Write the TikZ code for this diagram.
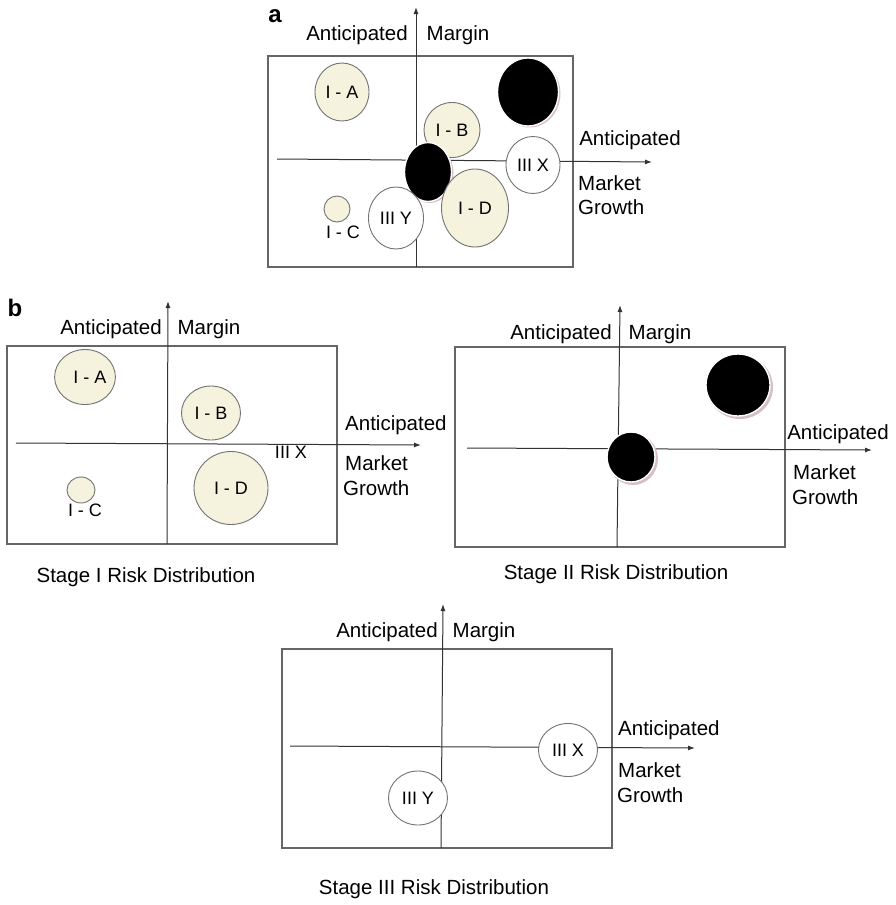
\documentclass[tikz,border=0pt]{standalone}
\usepackage{fontspec}
\setmainfont{Liberation Sans}
\usetikzlibrary{shapes.geometric,arrows.meta}
\definecolor{cream}{RGB}{245,243,222}
\definecolor{rim}{RGB}{214,192,197}
\begin{document}
\begin{tikzpicture}[x=1pt,y=-1pt,
  frame/.style={draw=black!60, line width=1.1pt},
  axis/.style={draw=black!80, line width=1pt, -{Latex[length=7pt,width=5pt]}},
  lbl/.style={font=\fontsize{20.5}{24}\selectfont, inner sep=0pt, text height=14.6pt, text depth=0pt},
  clbl/.style={font=\fontsize{18}{22}\selectfont, inner sep=0pt, text height=12.9pt, text depth=0pt},
  panel/.style={font=\bfseries\fontsize{24}{28}\selectfont, inner sep=0pt},
  wh/.style 2 args={minimum width=#1pt, minimum height=#2pt},
  bubble/.style={ellipse, draw=black!55, line width=0.9pt, inner sep=0pt,
    font=\fontsize{18}{22}\selectfont, text height=12.9pt, text depth=0pt},
  stageI/.style={bubble, fill=cream},
  stageIII/.style={bubble, fill=white},
  rimshade/.style={ellipse, fill=rim, inner sep=0pt},
  stageII/.style={ellipse, fill=black, draw=white, line width=1.4pt, inner sep=0pt},
]
\useasboundingbox[fill=white] (0,0) rectangle (896,905);

% ---------------- panel a: all stages together ----------------
\node[panel] (a-tag) at (275,16) {a};
\draw[frame] (268,56) rectangle (573,267);
\coordinate (a-ybot) at (416,267);
\coordinate (a-ytop) at (416,7);
\coordinate (a-xl) at (277,159);
\coordinate (a-xr) at (652,162);
\draw[axis] (a-ybot) -- (a-ytop);
\draw[axis] (a-xl) -- (a-xr);
\node[lbl] (a-ant1) at (357,33) {Anticipated};
\node[lbl] (a-mar) at (458,33) {Margin};
\node[lbl] (a-ant2) at (630,138) {Anticipated};
\node[lbl, anchor=west] (a-mkt) at (578,183) {Market};
\node[lbl, anchor=west] (a-gro) at (578,207) {Growth};

\node[rimshade, wh={62}{68}] (a-IIa-rim) at (529.5,93.5) {};
\node[stageII, wh={61}{68}] (a-IIa) at (528,92) {};
\node[stageI, wh={54}{58}] (a-IA) at (342,92) {I - A};
\node[stageI, wh={56}{55}] (a-IB) at (452,130) {I - B};
\node[rimshade, wh={48}{59}] (a-IIb-rim) at (429.5,173.5) {};
\node[stageII, wh={47}{59}] (a-IIb) at (428,172) {};
\node[stageIII, wh={54}{57}] (a-IIIX) at (533,165) {III X};
\node[stageI, wh={67}{78}] (a-ID) at (475,208) {I - D};
\node[stageIII, wh={55}{62}] (a-IIIY) at (396,218) {III Y};
\node[stageI, wh={26}{26}] (a-IC) at (337,209) {};
\node[clbl] (a-IC-lbl) at (343,232) {I - C};

% ---------------- panel b: Stage I ----------------
\node[panel] (b-tag) at (15,308) {b};
\draw[frame] (7,346) rectangle (337,544);
\coordinate (b1-ybot) at (167,544);
\coordinate (b1-ytop) at (168,301);
\coordinate (b1-xl) at (16,443);
\coordinate (b1-xr) at (421,445);
\draw[axis] (b1-ybot) -- (b1-ytop);
\draw[axis] (b1-xl) -- (b1-xr);
\node[lbl] (b1-ant1) at (111,327) {Anticipated};
\node[lbl] (b1-mar) at (209,327) {Margin};
\node[lbl, anchor=west] (b1-ant2) at (345,423) {Anticipated};
\node[lbl, anchor=west] (b1-mkt) at (345,463) {Market};
\node[lbl, anchor=west] (b1-gro) at (343,488) {Growth};
\node[clbl] (b1-IIIX) at (291,452) {III X};

\node[stageI, wh={55}{55}] (b1-IA) at (85,377) {\hspace*{10pt}I - A};
\node[stageI, wh={59}{54}] (b1-IB) at (211,413) {I - B};
\node[stageI, wh={74}{73}] (b1-ID) at (231,488) {I - D};
\node[stageI, wh={28}{26}] (b1-IC) at (81,490) {};
\node[clbl] (b1-IC-lbl) at (85,510) {I - C};
\node[lbl] (b1-title) at (146,575) {Stage I Risk Distribution};

% ---------------- panel b: Stage II ----------------
\draw[frame] (455,347) rectangle (785,547);
\coordinate (b2-ybot) at (617,547);
\coordinate (b2-ytop) at (620,305);
\coordinate (b2-xl) at (467,448);
\coordinate (b2-xr) at (872,450);
\draw[axis] (b2-ybot) -- (b2-ytop);
\draw[axis] (b2-xl) -- (b2-xr);
\node[lbl] (b2-ant1) at (561,332) {Anticipated};
\node[lbl] (b2-mar) at (660,332) {Margin};
\node[lbl] (b2-ant2) at (838,432) {Anticipated};
\node[lbl, anchor=west] (b2-mkt) at (793,472) {Market};
\node[lbl, anchor=west] (b2-gro) at (792,497) {Growth};

\node[rimshade, wh={66}{64}] (b2-IIa-rim) at (740,387) {};
\node[stageII, wh={64}{62}] (b2-IIa) at (738,385) {};
\node[rimshade, wh={50}{52}] (b2-IIb-rim) at (633,459) {};
\node[stageII, wh={48}{50}] (b2-IIb) at (631,457) {};
\node[lbl] (b2-title) at (616,572) {Stage II Risk Distribution};

% ---------------- panel b: Stage III ----------------
\draw[frame] (282,649) rectangle (612,848);
\coordinate (b3-ybot) at (441,848);
\coordinate (b3-ytop) at (443,604);
\coordinate (b3-xl) at (290,746);
\coordinate (b3-xr) at (695,748);
\draw[axis] (b3-ybot) -- (b3-ytop);
\draw[axis] (b3-xl) -- (b3-xr);
\node[lbl] (b3-ant1) at (387,630) {Anticipated};
\node[lbl] (b3-mar) at (484,630) {Margin};
\node[lbl, anchor=west] (b3-ant2) at (618,728) {Anticipated};
\node[lbl, anchor=west] (b3-mkt) at (618,770) {Market};
\node[lbl, anchor=west] (b3-gro) at (617,795) {Growth};

\node[stageIII, wh={59}{53}] (b3-IIIX) at (568,750) {III X};
\node[stageIII, wh={59}{54}] (b3-IIIY) at (418,798) {III Y};
\node[lbl] (b3-title) at (434,887) {Stage III Risk Distribution};
\end{tikzpicture}
\end{document}
